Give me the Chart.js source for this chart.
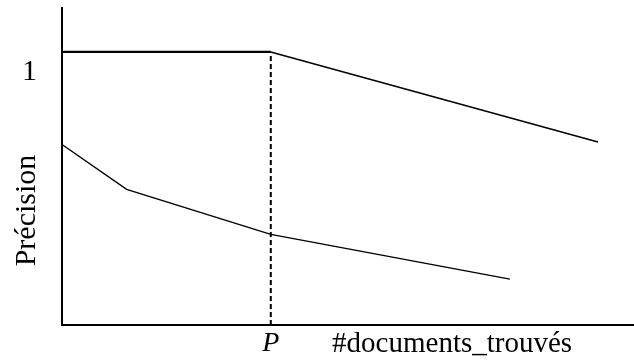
<!DOCTYPE html>
<html>
<head>
<meta charset="utf-8">
<script src="https://cdn.jsdelivr.net/npm/chart.js@4/dist/chart.umd.min.js"></script>
<style>
  html, body { margin: 0; padding: 0; background: #fff; }
  #wrap { width: 634px; height: 360px; position: relative; }
</style>
</head>
<body>
<div id="wrap"><canvas id="precChart"></canvas></div>
<script>
// valeurs (x : 0..100, y : précision)
const upperX = [0, 36.5, 93.7];
const upperY = [1, 1, 0.67];
const lowerX = [0, 11.3, 36.5, 78.3];
const lowerY = [0.661, 0.497, 0.332, 0.168];
const cutoffX = [36.5, 36.5];
const cutoffY = [0, 1];

const xTickValues = [36.5, 68.2];
const xTickLabels = ['P', '#documents_trouvés'];
const yTickValues = [1];
const yTickLabels = ['1'];
const yTitle = 'Précision';

const SERIF = '"Liberation Serif", "Times New Roman", serif';

const toPoints = (xs, ys) => xs.map((x, i) => ({ x: x, y: ys[i] }));

// titre vertical, placé comme sur l'original (plus bas que le centre)
const yTitlePlugin = {
    id: 'yTitle',
    afterDraw(chart) {
        const ctx = chart.ctx;
        ctx.save();
        ctx.translate(35, 210.5);
        ctx.rotate(-Math.PI / 2);
        ctx.font = '30px ' + SERIF;
        ctx.fillStyle = '#000';
        ctx.textAlign = 'center';
        ctx.textBaseline = 'alphabetic';
        ctx.fillText(yTitle, 0, 0);
        ctx.restore();
    }
};

new Chart(document.getElementById('precChart'), {
    type: 'line',
    data: {
        datasets: [
            {
                data: toPoints(upperX, upperY),
                borderColor: '#000',
                borderWidth: 1.5,
                segment: {
                    borderWidth: ctx => ctx.p0DataIndex === 0 ? 2.2 : 1.5
                },
                pointRadius: 0,
                fill: false
            },
            {
                data: toPoints(lowerX, lowerY),
                borderColor: '#000',
                borderWidth: 1.4,
                pointRadius: 0,
                fill: false
            },
            {
                data: toPoints(cutoffX, cutoffY),
                borderColor: '#000',
                borderWidth: 2,
                borderDash: [5, 3],
                pointRadius: 0,
                fill: false
            }
        ]
    },
    options: {
        responsive: true,
        maintainAspectRatio: false,
        animation: false,
        clip: false,
        layout: { autoPadding: false, padding: { top: 8, right: 0, left: 0, bottom: 0 } },
        plugins: {
            legend: { display: false },
            tooltip: { enabled: false }
        },
        scales: {
            x: {
                type: 'linear',
                min: 0,
                max: 100,
                grid: { display: false, drawTicks: false },
                border: { display: true, color: '#000', width: 2 },
                afterBuildTicks: s => { s.ticks = xTickValues.map(v => ({ value: v })); },
                afterFit: s => {
                    s.height = 35;
                    s.paddingLeft = 0;
                    s.paddingRight = 0;
                },
                ticks: {
                    autoSkip: false,
                    maxRotation: 0,
                    padding: 2,
                    color: '#000',
                    font: c => ({ family: SERIF, size: c.index === 0 ? 28 : 29, style: c.index === 0 ? 'italic' : 'normal' }),
                    callback: (v, i) => xTickLabels[i]
                }
            },
            y: {
                type: 'linear',
                min: 0,
                max: 1.161,
                grid: { display: false, drawTicks: false },
                border: { display: true, color: '#000', width: 2 },
                afterBuildTicks: s => { s.ticks = yTickValues.map(v => ({ value: v })); },
                afterFit: s => {
                    s.width = 62;
                    s.paddingTop = 0;
                    s.paddingBottom = 0;
                },
                ticks: {
                    padding: 25,
                    labelOffset: 20,
                    color: '#000',
                    font: { family: SERIF, size: 30 },
                    callback: (v, i) => yTickLabels[i]
                }
            }
        }
    },
    plugins: [yTitlePlugin]
});
</script>
</body>
</html>
